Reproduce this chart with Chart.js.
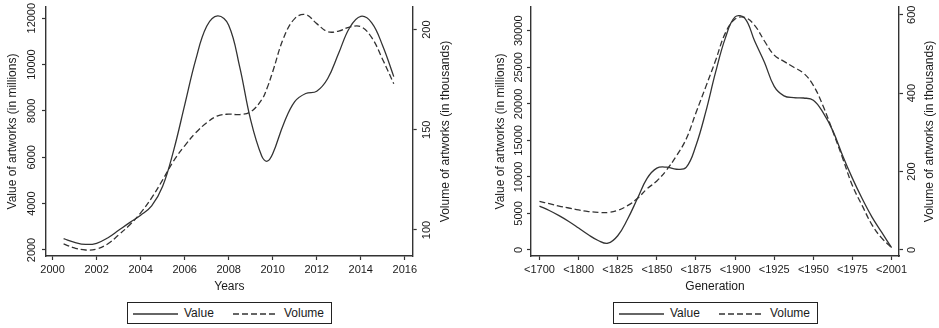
<!DOCTYPE html>
<html>
<head>
<meta charset="utf-8">
<script src="https://cdn.jsdelivr.net/npm/chart.js@4/dist/chart.umd.min.js"></script>
<style>
  html, body { margin: 0; padding: 0; background: #fff; width: 939px; height: 328px; overflow: hidden; }
  .panel { position: absolute; top: 0; height: 300px; }
  .legend { position: absolute; box-sizing: border-box; height: 22px; width: 205px; border: 1px solid #222;
            font-family: "Liberation Sans", Arial, sans-serif; font-size: 12px; color: #1a1a1a; background: #fff; }
  .legend svg { position: absolute; top: 9px; }
  .legend span { position: absolute; top: 3px; line-height: 14px; }
</style>
</head>
<body>
<div class="panel" style="left:0;width:469px"><canvas id="years"></canvas></div>
<div class="panel" style="left:469px;width:470px"><canvas id="generation"></canvas></div>

<div class="legend" style="left:127px;top:302px">
  <svg width="45" height="4" style="left:5px"><line x1="0" y1="2" x2="45" y2="2" stroke="#333" stroke-width="1.3"/></svg>
  <span style="left:56px">Value</span>
  <svg width="45" height="4" style="left:105px"><line x1="0" y1="2" x2="45" y2="2" stroke="#333" stroke-width="1.3" stroke-dasharray="6 3"/></svg>
  <span style="left:156px">Volume</span>
</div>
<div class="legend" style="left:613px;top:302px">
  <svg width="45" height="4" style="left:5px"><line x1="0" y1="2" x2="45" y2="2" stroke="#333" stroke-width="1.3"/></svg>
  <span style="left:56px">Value</span>
  <svg width="45" height="4" style="left:105px"><line x1="0" y1="2" x2="45" y2="2" stroke="#333" stroke-width="1.3" stroke-dasharray="6 3"/></svg>
  <span style="left:156px">Volume</span>
</div>

<script>
// ---- Sales by year ----
const years = [2000.5, 2001, 2001.5, 2002, 2002.5, 2003, 2003.5, 2004, 2004.5, 2005, 2005.5,
               2006, 2006.5, 2007, 2007.5, 2008, 2008.5, 2009, 2009.5, 2009.75, 2010, 2010.5,
               2011, 2011.5, 2012, 2012.5, 2013, 2013.5, 2014, 2014.5, 2015, 2015.5];
// value of artworks, in millions
const valueByYear = [2490, 2330, 2240, 2290, 2520, 2850, 3180, 3500, 3900, 4750, 6300,
                     8250, 10200, 11650, 12100, 11700, 9900, 7600, 6050, 5830, 6150, 7450,
                     8400, 8750, 8850, 9400, 10500, 11600, 12080, 11800, 10800, 9480];
// volume of artworks, in thousands
const volumeByYear = [93, 91, 90, 90.5, 93, 97.5, 102.5, 108.5, 116, 125, 134.5,
                      142, 148.5, 153.5, 157, 157.8, 157.6, 159, 165, 171, 179, 196,
                      205.5, 207.5, 203, 199, 199.3, 201.3, 201.5, 196, 185, 173];
const yearTicks = [2000, 2002, 2004, 2006, 2008, 2010, 2012, 2014, 2016];
const yearValueTicks = [2000, 4000, 6000, 8000, 10000, 12000];
const yearVolumeTicks = [100, 150, 200];

// ---- Sales by artist generation ----
const generations = ['<1700', '<1800', '<1825', '<1850', '<1875', '<1900', '<1925', '<1950', '<1975', '<2001'];
const generationTicks = [0, 1, 2, 3, 4, 5, 6, 7, 8, 9];
const generationPos = [0, 0.25, 0.5, 0.75, 1, 1.25, 1.5, 1.75, 2, 2.25, 2.5, 2.75, 3, 3.25, 3.5, 3.75,
                       4, 4.25, 4.5, 4.75, 5, 5.25, 5.5, 5.75, 6, 6.25, 6.5, 6.75, 7, 7.25, 7.5, 7.75,
                       8, 8.25, 8.5, 8.75, 9];
const valueByGeneration = [6000, 5400, 4700, 3900, 3000, 2080, 1300, 930, 1950, 4200, 7000, 9800,
                           11200, 11330, 11050, 11300, 14300, 18900, 24300, 29000, 31900, 31700,
                           28600, 25700, 22400, 21100, 20850, 20800, 20500, 18800, 16300, 12900,
                           9800, 7000, 4500, 2400, 320];
const volumeByGeneration = [124, 118, 112, 107, 102, 98, 96, 95.5, 101, 113, 131, 156, 176, 204,
                            240, 283, 350, 416, 483, 553, 589, 593, 573, 533, 497, 481, 466, 451,
                            420, 367, 302, 234, 164, 113, 64, 30, 6];
const generationValueTicks = [0, 5000, 10000, 15000, 20000, 25000, 30000];
const generationVolumeTicks = [0, 200, 400, 600];

const FONT = '"Liberation Sans", Arial, Helvetica, sans-serif';
const INK = '#1a1a1a';
const LINE = '#333';

// Vertical axes: tick labels and titles rotated to read bottom-to-top
const rotatedAxisText = {
  id: 'rotatedAxisText',
  afterDraw(chart, args, opts) {
    const ctx = chart.ctx;
    for (const id of ['y', 'y1']) {
      const s = chart.scales[id];
      const o = opts[id];
      const left = s.position === 'left';
      const axisX = left ? s.right : s.left;
      const dir = left ? -1 : 1;
      ctx.save();
      ctx.fillStyle = INK;
      ctx.textAlign = 'center';
      ctx.textBaseline = 'middle';
      ctx.font = '11px ' + FONT;
      for (const t of s.ticks) {
        const y = s.getPixelForValue(t.value);
        ctx.save();
        ctx.translate(axisX + dir * o.labelGap, y);
        ctx.rotate(-Math.PI / 2);
        ctx.fillText(t.label, 0, 0);
        ctx.restore();
      }
      ctx.font = '12px ' + FONT;
      ctx.translate(axisX + dir * o.titleGap, (chart.chartArea.top + chart.chartArea.bottom) / 2);
      ctx.rotate(-Math.PI / 2);
      ctx.fillText(o.title, 0, 0);
      ctx.restore();
    }
  }
};

function fixedTicks(values) {
  return (scale) => { scale.ticks = values.map(v => ({ value: v })); };
}

function yAxis(position, min, max, ticks, width) {
  return {
    type: 'linear', position, min, max,
    afterBuildTicks: fixedTicks(ticks),
    afterFit: (s) => { s.width = width; },
    ticks: { display: false, callback: (v) => String(v) },
    grid: { drawOnChartArea: false, drawTicks: true, tickLength: 4, tickWidth: 1.2, tickColor: LINE },
    border: { display: true, color: LINE, width: 1.4 }
  };
}

function xAxis(min, max, ticks, labelFn, titleText) {
  return {
    type: 'linear', position: 'bottom', min, max,
    afterBuildTicks: fixedTicks(ticks),
    afterFit: (s) => { s.height = 44; },
    ticks: { autoSkip: false, maxRotation: 0, minRotation: 0, padding: 3, color: INK,
             font: { family: FONT, size: 11 }, callback: labelFn },
    grid: { drawOnChartArea: false, drawTicks: true, tickLength: 4, tickWidth: 1.2, tickColor: LINE },
    border: { display: true, color: LINE, width: 1.4 },
    title: { display: true, text: titleText, color: INK, font: { family: FONT, size: 12 },
             padding: { top: 0, bottom: 6 } }
  };
}

function series(label, xs, ys, axis, dash) {
  return {
    label, yAxisID: axis,
    data: xs.map((x, i) => ({ x, y: ys[i] })),
    borderColor: LINE, borderWidth: 1.3, borderDash: dash,
    pointRadius: 0, fill: false, tension: 0.4
  };
}

const common = {
  responsive: true, maintainAspectRatio: false, animation: false, devicePixelRatio: 1,
  layout: { padding: { top: 7, left: 0, right: 0, bottom: 0 } },
  plugins: { legend: { display: false }, tooltip: { enabled: false } }
};

new Chart(document.getElementById('years'), {
  type: 'line',
  data: { datasets: [
    series('Value', years, valueByYear, 'y', []),
    series('Volume', years, volumeByYear, 'y1', [6, 3])
  ] },
  options: {
    ...common,
    plugins: { ...common.plugins,
      rotatedAxisText: {
        y: { labelGap: 14, titleGap: 33, title: 'Value of artworks (in millions)' },
        y1: { labelGap: 14, titleGap: 33, title: 'Volume of artworks (in thousands)' }
      } },
    scales: {
      x: xAxis(1999.7, 2016.36, yearTicks, (v) => String(v), 'Years'),
      y: yAxis('left', 1741, 12483, yearValueTicks, 46),
      y1: yAxis('right', 87, 211.3, yearVolumeTicks, 56.3)
    }
  },
  plugins: [rotatedAxisText]
});

new Chart(document.getElementById('generation'), {
  type: 'line',
  data: { datasets: [
    series('Value', generationPos, valueByGeneration, 'y', []),
    series('Volume', generationPos, volumeByGeneration, 'y1', [6, 3])
  ] },
  options: {
    ...common,
    plugins: { ...common.plugins,
      rotatedAxisText: {
        y: { labelGap: 12.5, titleGap: 30.5, title: 'Value of artworks (in millions)' },
        y1: { labelGap: 12.5, titleGap: 30.5, title: 'Volume of artworks (in thousands)' }
      } },
    scales: {
      x: xAxis(-0.217, 9.19, generationTicks, (v) => generations[v], 'Generation'),
      y: yAxis('left', -825, 33257, generationValueTicks, 62),
      y1: yAxis('right', -15.4, 619.7, generationVolumeTicks, 40)
    }
  },
  plugins: [rotatedAxisText]
});
</script>
</body>
</html>
